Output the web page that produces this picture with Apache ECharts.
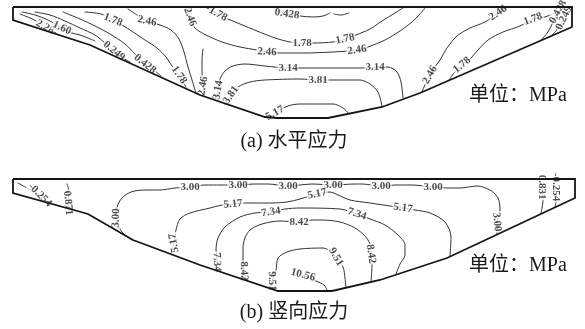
<!DOCTYPE html>
<html>
<head>
<meta charset="utf-8">
<script src="https://cdn.jsdelivr.net/npm/echarts@6/dist/echarts.min.js"></script>
<style>
  html, body { margin: 0; padding: 0; background: #fff; }
  #chart { width: 585px; height: 329px; }
</style>
</head>
<body>
<div id="chart"></div>
<script>
// Valley cross-section outlines (x along section, y = depth below crest, in m)
const sectionA = [[0,0],[559,0],[559,20],[407,86],[369,100],[315,111],[264,111],[252,110],[187,88],[77,38],[0,13],[0,0]];
const sectionB = [[0,0],[562,0],[562,19],[434,79],[367,101],[319,112],[265,112],[187,86],[120,61],[75,35],[0,14],[0,0]];

// (a) horizontal stress, MPa: contour level of each traced isoline
const levelsA = [2.28, 1.60, 0.249, 0.428, 1.78, 2.46, 2.46, 2.46, 1.78, 0.428, 0.428, 3.14, 3.81, 5.17, 2.46, 1.78, 0.428, 0.249];
const pathsA = [
  [[7,7],[17,11],[25,15],[32,20],[38,23],[43,26]],
  [[9,5],[22,8],[35,13],[42,17],[49,21],[59,26],[67,28],[75,31],[82,34]],
  [[22,5],[37,8],[52,14],[67,21],[82,28],[92,36],[101,44],[110,51],[117,55]],
  [[50,5],[67,12],[82,19],[97,27],[112,37],[122,47],[132,57],[142,64],[148,69]],
  [[72,5],[88,7],[100,13],[109,18],[120,25],[132,33],[144,41],[153,50],[159,59],[166,68],[173,80]],
  [[115,2],[124,8],[134,14],[147,18],[158,23],[166,32],[171,45],[175,60],[179,73],[183,86]],
  [[192,90],[190,79],[189,66],[189,53],[190,42]],
  [[173,1],[177,10],[181,20],[191,27],[209,35],[227,40],[244,43],[254,45],[267,46],[290,46],[320,45],[344,43],[355,40],[372,33],[387,24],[399,15],[407,7],[412,1]],
  [[194,1],[205,7],[215,12],[227,17],[244,24],[262,31],[277,35],[289,36],[301,36],[320,35],[332,32],[343,28],[357,22],[369,14],[382,6],[390,1]],
  [[262,2],[274,7],[287,9],[300,10],[310,9],[317,6]],
  [[321,7],[328,8],[336,6]],
  [[202,93],[205,83],[207,72],[212,64],[220,59],[232,57],[252,59],[275,61],[287,61],[350,61],[362,60],[375,60],[384,65],[388,75],[390,91]],
  [[212,97],[218,88],[225,80],[237,75],[252,73],[287,72],[305,73],[317,73],[347,73],[357,77],[365,85],[369,99]],
  [[256,111],[262,106],[275,99],[287,97],[320,97],[330,101],[336,107]],
  [[494,1],[485,6],[472,15],[457,21],[444,29],[434,41],[427,53],[421,61],[417,68],[411,80],[409,85]],
  [[546,4],[532,10],[520,12],[507,19],[490,25],[475,33],[465,43],[457,52],[449,58],[441,66],[436,73]],
  [[528,33],[535,25],[540,15],[545,5]],
  [[537,30],[543,24],[547,18],[551,11]]
];
// inline labels: [isoline index, vertex index, text rotation]
const labelsA = [
  [0,3,-30],[1,4,-25],[2,6,-40],[3,6,-38],[4,2,-22],[4,9,-55],[5,2,-12],[6,1,80],
  [7,1,-70],[7,7,-3],[7,11,8],[8,1,-30],[8,7,0],[8,10,12],[9,1,-8],
  [11,1,80],[11,7,0],[11,10,0],[12,1,55],[12,6,0],[13,1,30],
  [14,1,35],[14,8,60],[15,2,20],[15,8,40],[16,3,60],[17,3,65]
];

// (b) vertical stress, MPa
const levelsB = [-0.254, 0.871, 3.00, 5.17, 7.34, 8.42, 9.51, 10.56, 0.831, -0.254];
const pathsB = [
  [[5,4],[14,9],[27,16],[35,23]],
  [[54,5],[56,12],[55,24],[57,30]],
  [[119,61],[109,53],[103,39],[104,28],[109,19],[118,13],[132,11],[147,11],[162,9],[177,8],[192,6],[207,6],[225,6],[242,5],[255,5],[275,7],[287,6],[299,5],[320,6],[342,5],[349,5],[368,7],[382,6],[399,6],[420,8],[434,9],[447,9],[464,7],[477,11],[485,19],[487,31],[484,43],[484,55]],
  [[158,75],[161,64],[163,51],[167,40],[177,34],[197,29],[209,26],[220,25],[232,24],[257,24],[274,23],[287,20],[304,15],[317,13],[325,16],[337,21],[357,24],[377,27],[390,29],[402,31],[417,34],[432,43],[438,58],[437,77]],
  [[203,91],[204,83],[203,71],[205,59],[212,48],[227,38],[242,34],[258,33],[272,30],[287,29],[327,30],[344,35],[357,40],[372,46],[385,56],[392,66],[392,76],[387,85],[383,95]],
  [[233,101],[231,92],[230,79],[230,69],[232,59],[237,51],[249,45],[267,42],[286,43],[299,41],[309,41],[327,43],[342,49],[352,57],[357,65],[358,75],[359,86],[358,103]],
  [[258,110],[259,102],[263,91],[265,79],[274,73],[287,70],[310,69],[317,72],[323,78],[330,88],[332,99],[333,109]],
  [[290,96],[303,102],[311,106],[314,111]],
  [[529,8],[530,22],[529,29],[528,35]],
  [[543,8],[543,22],[542,28]]
];
const labelsB = [
  [0,2,-45],[1,2,-85],
  [2,2,88],[2,9,0],[2,12,0],[2,15,0],[2,18,0],[2,21,0],[2,24,0],[2,31,-85],
  [3,1,100],[3,7,5],[3,12,12],[3,18,-8],
  [4,1,-88],[4,7,8],[4,11,-18],
  [5,1,-88],[5,8,0],[5,15,-82],
  [6,1,-88],[6,8,-60],
  [7,0,-15],[8,0,-90],[9,0,-90]
];

const serif = '"Liberation Serif", "Times New Roman", serif';
const cjk = '"Liberation Serif", "Noto Sans CJK SC", serif';
const fmt = v => (Math.abs(v) < 1 ? v.toFixed(3) : v.toFixed(2));

function panelSeries(gi, section, levels, paths, labels) {
  const list = [];
  list.push({
    type: 'line', xAxisIndex: gi, yAxisIndex: gi, data: section,
    symbol: 'none', clip: false, silent: true, z: 10,
    lineStyle: { color: '#151515', width: 1.8, join: 'miter' }
  });
  paths.forEach(p => list.push({
    type: 'line', xAxisIndex: gi, yAxisIndex: gi, data: p,
    symbol: 'none', smooth: 0.3, clip: false, silent: true, z: 2,
    lineStyle: { color: '#333', width: 1, cap: 'round' }
  }));
  list.push({
    type: 'scatter', xAxisIndex: gi, yAxisIndex: gi, symbolSize: 1,
    clip: false, silent: true, z: 5,
    itemStyle: { color: 'rgba(0,0,0,0)' },
    label: {
      show: true, position: 'inside', formatter: p => p.name,
      fontFamily: serif, fontSize: 11, fontWeight: 'bold', color: '#1f1f1f',
      backgroundColor: '#fff', padding: [0, 1]
    },
    data: labels.map(([k, i, r]) => ({ name: fmt(levels[k]), value: paths[k][i], label: { rotate: r } }))
  });
  return list;
}

const chart = echarts.init(document.getElementById('chart'), null, { renderer: 'canvas' });
chart.setOption({
  animation: false,
  backgroundColor: '#fff',
  grid: [
    { left: 13, top: 7, width: 559, height: 111 },
    { left: 13, top: 179, width: 562, height: 112 }
  ],
  xAxis: [
    { gridIndex: 0, type: 'value', min: 0, max: 559, show: false },
    { gridIndex: 1, type: 'value', min: 0, max: 562, show: false }
  ],
  yAxis: [
    { gridIndex: 0, type: 'value', min: 0, max: 111, inverse: true, show: false },
    { gridIndex: 1, type: 'value', min: 0, max: 112, inverse: true, show: false }
  ],
  graphic: [
    { type: 'text', x: 469, y: 96, style: { text: '单位：MPa', fontSize: 20, fontFamily: cjk, fill: '#1a1a1a', verticalAlign: 'middle', textVerticalAlign: 'middle' } },
    { type: 'text', x: 469, y: 266, style: { text: '单位：MPa', fontSize: 20, fontFamily: cjk, fill: '#1a1a1a', verticalAlign: 'middle', textVerticalAlign: 'middle' } },
    { type: 'text', x: 294, y: 142, style: { text: '(a) 水平应力', fontSize: 20, fontFamily: cjk, fill: '#1a1a1a', align: 'center', textAlign: 'center', verticalAlign: 'middle', textVerticalAlign: 'middle' } },
    { type: 'text', x: 294, y: 313, style: { text: '(b) 竖向应力', fontSize: 20, fontFamily: cjk, fill: '#1a1a1a', align: 'center', textAlign: 'center', verticalAlign: 'middle', textVerticalAlign: 'middle' } }
  ],
  series: [
    ...panelSeries(0, sectionA, levelsA, pathsA, labelsA),
    ...panelSeries(1, sectionB, levelsB, pathsB, labelsB)
  ]
});
</script>
</body>
</html>
